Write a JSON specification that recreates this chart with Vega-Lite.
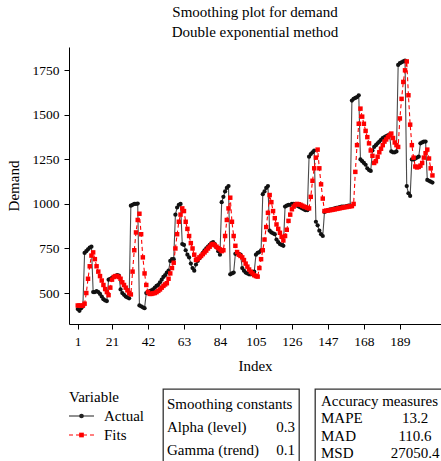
{
"$schema":"https://vega.github.io/schema/vega-lite/v6.json",
"padding":{"left":6,"top":5,"right":0,"bottom":0},
"background":"white",
"datasets":{
"series":[
{"Index":1,"Actual":410,"Fits":430},{"Index":2,"Actual":400,"Fits":430},{"Index":3,"Actual":415,"Fits":428},{"Index":4,"Actual":425,"Fits":430},{"Index":5,"Actual":725,"Fits":440},{"Index":6,"Actual":735,"Fits":500},{"Index":7,"Actual":745,"Fits":580},{"Index":8,"Actual":755,"Fits":650},{"Index":9,"Actual":760,"Fits":710},{"Index":10,"Actual":505,"Fits":728},
{"Index":11,"Actual":505,"Fits":690},{"Index":12,"Actual":510,"Fits":650},{"Index":13,"Actual":505,"Fits":620},{"Index":14,"Actual":495,"Fits":595},{"Index":15,"Actual":480,"Fits":570},{"Index":16,"Actual":465,"Fits":545},{"Index":17,"Actual":458,"Fits":522},{"Index":18,"Actual":455,"Fits":505},{"Index":19,"Actual":575,"Fits":488},{"Index":20,"Actual":580,"Fits":530},
{"Index":21,"Actual":585,"Fits":575},{"Index":22,"Actual":590,"Fits":590},{"Index":23,"Actual":595,"Fits":595},{"Index":24,"Actual":600,"Fits":595},{"Index":25,"Actual":598,"Fits":590},{"Index":26,"Actual":520,"Fits":580},{"Index":27,"Actual":500,"Fits":560},{"Index":28,"Actual":490,"Fits":545},{"Index":29,"Actual":480,"Fits":530},{"Index":30,"Actual":475,"Fits":515},
{"Index":31,"Actual":470,"Fits":500},{"Index":32,"Actual":990,"Fits":492},{"Index":33,"Actual":995,"Fits":620},{"Index":34,"Actual":1000,"Fits":740},{"Index":35,"Actual":1000,"Fits":840},{"Index":36,"Actual":1002,"Fits":910},{"Index":37,"Actual":430,"Fits":945},{"Index":38,"Actual":425,"Fits":830},{"Index":39,"Actual":420,"Fits":700},{"Index":40,"Actual":415,"Fits":610},
{"Index":41,"Actual":500,"Fits":545},{"Index":42,"Actual":505,"Fits":505},{"Index":43,"Actual":510,"Fits":495},{"Index":44,"Actual":515,"Fits":495},{"Index":45,"Actual":520,"Fits":498},{"Index":46,"Actual":530,"Fits":500},{"Index":47,"Actual":540,"Fits":505},{"Index":48,"Actual":545,"Fits":512},{"Index":49,"Actual":560,"Fits":520},{"Index":50,"Actual":575,"Fits":530},
{"Index":51,"Actual":590,"Fits":540},{"Index":52,"Actual":600,"Fits":548},{"Index":53,"Actual":615,"Fits":555},{"Index":54,"Actual":625,"Fits":580},{"Index":55,"Actual":680,"Fits":610},{"Index":56,"Actual":690,"Fits":640},{"Index":57,"Actual":690,"Fits":670},{"Index":58,"Actual":940,"Fits":750},{"Index":59,"Actual":980,"Fits":830},{"Index":60,"Actual":995,"Fits":900},
{"Index":61,"Actual":1000,"Fits":940},{"Index":62,"Actual":775,"Fits":975},{"Index":63,"Actual":770,"Fits":960},{"Index":64,"Actual":740,"Fits":900},{"Index":65,"Actual":715,"Fits":860},{"Index":66,"Actual":700,"Fits":820},{"Index":67,"Actual":665,"Fits":780},{"Index":68,"Actual":640,"Fits":750},{"Index":69,"Actual":625,"Fits":715},{"Index":70,"Actual":660,"Fits":685},
{"Index":71,"Actual":680,"Fits":690},{"Index":72,"Actual":695,"Fits":700},{"Index":73,"Actual":710,"Fits":708},{"Index":74,"Actual":725,"Fits":718},{"Index":75,"Actual":740,"Fits":728},{"Index":76,"Actual":750,"Fits":738},{"Index":77,"Actual":760,"Fits":750},{"Index":78,"Actual":770,"Fits":760},{"Index":79,"Actual":780,"Fits":772},{"Index":80,"Actual":785,"Fits":775},
{"Index":81,"Actual":775,"Fits":768},{"Index":82,"Actual":755,"Fits":760},{"Index":83,"Actual":735,"Fits":752},{"Index":84,"Actual":715,"Fits":745},{"Index":85,"Actual":1010,"Fits":735},{"Index":86,"Actual":1040,"Fits":740},{"Index":87,"Actual":1070,"Fits":820},{"Index":88,"Actual":1090,"Fits":910},{"Index":89,"Actual":1100,"Fits":975},{"Index":90,"Actual":605,"Fits":1035},
{"Index":91,"Actual":610,"Fits":900},{"Index":92,"Actual":615,"Fits":820},{"Index":93,"Actual":720,"Fits":765},{"Index":94,"Actual":725,"Fits":730},{"Index":95,"Actual":720,"Fits":715},{"Index":96,"Actual":715,"Fits":708},{"Index":97,"Actual":640,"Fits":700},{"Index":98,"Actual":625,"Fits":685},{"Index":99,"Actual":615,"Fits":665},{"Index":100,"Actual":610,"Fits":648},
{"Index":101,"Actual":605,"Fits":632},{"Index":102,"Actual":605,"Fits":620},{"Index":103,"Actual":615,"Fits":610},{"Index":104,"Actual":620,"Fits":600},{"Index":105,"Actual":715,"Fits":595},{"Index":106,"Actual":725,"Fits":592},{"Index":107,"Actual":730,"Fits":640},{"Index":108,"Actual":740,"Fits":690},{"Index":109,"Actual":1055,"Fits":740},{"Index":110,"Actual":1070,"Fits":800},
{"Index":111,"Actual":1090,"Fits":870},{"Index":112,"Actual":1100,"Fits":950},{"Index":113,"Actual":850,"Fits":1050},{"Index":114,"Actual":840,"Fits":1010},{"Index":115,"Actual":835,"Fits":960},{"Index":116,"Actual":830,"Fits":920},{"Index":117,"Actual":800,"Fits":885},{"Index":118,"Actual":785,"Fits":860},{"Index":119,"Actual":775,"Fits":838},{"Index":120,"Actual":770,"Fits":815},
{"Index":121,"Actual":765,"Fits":795},{"Index":122,"Actual":985,"Fits":820},{"Index":123,"Actual":990,"Fits":855},{"Index":124,"Actual":995,"Fits":905},{"Index":125,"Actual":995,"Fits":940},{"Index":126,"Actual":1000,"Fits":970},{"Index":127,"Actual":1000,"Fits":985},{"Index":128,"Actual":995,"Fits":995},{"Index":129,"Actual":990,"Fits":1000},{"Index":130,"Actual":985,"Fits":998},
{"Index":131,"Actual":980,"Fits":995},{"Index":132,"Actual":975,"Fits":990},{"Index":133,"Actual":970,"Fits":985},{"Index":134,"Actual":965,"Fits":982},{"Index":135,"Actual":965,"Fits":978},{"Index":136,"Actual":1265,"Fits":975},{"Index":137,"Actual":1280,"Fits":1040},{"Index":138,"Actual":1290,"Fits":1130},{"Index":139,"Actual":1300,"Fits":1200},{"Index":140,"Actual":900,"Fits":1260},
{"Index":141,"Actual":880,"Fits":1305},{"Index":142,"Actual":850,"Fits":1200},{"Index":143,"Actual":830,"Fits":1110},{"Index":144,"Actual":820,"Fits":1030},{"Index":145,"Actual":955,"Fits":960},{"Index":146,"Actual":960,"Fits":962},{"Index":147,"Actual":965,"Fits":963},{"Index":148,"Actual":968,"Fits":965},{"Index":149,"Actual":970,"Fits":966},{"Index":150,"Actual":972,"Fits":968},
{"Index":151,"Actual":975,"Fits":970},{"Index":152,"Actual":978,"Fits":972},{"Index":153,"Actual":980,"Fits":974},{"Index":154,"Actual":982,"Fits":976},{"Index":155,"Actual":985,"Fits":978},{"Index":156,"Actual":985,"Fits":980},{"Index":157,"Actual":985,"Fits":982},{"Index":158,"Actual":988,"Fits":983},{"Index":159,"Actual":990,"Fits":985},{"Index":160,"Actual":990,"Fits":987},
{"Index":161,"Actual":1580,"Fits":988},{"Index":162,"Actual":1590,"Fits":1000},{"Index":163,"Actual":1595,"Fits":1180},{"Index":164,"Actual":1600,"Fits":1330},{"Index":165,"Actual":1610,"Fits":1450},{"Index":166,"Actual":1250,"Fits":1535},{"Index":167,"Actual":1240,"Fits":1490},{"Index":168,"Actual":1230,"Fits":1450},{"Index":169,"Actual":1220,"Fits":1410},{"Index":170,"Actual":1200,"Fits":1375},
{"Index":171,"Actual":1190,"Fits":1340},{"Index":172,"Actual":1185,"Fits":1300},{"Index":173,"Actual":1300,"Fits":1270},{"Index":174,"Actual":1320,"Fits":1230},{"Index":175,"Actual":1330,"Fits":1240},{"Index":176,"Actual":1340,"Fits":1265},{"Index":177,"Actual":1350,"Fits":1290},{"Index":178,"Actual":1360,"Fits":1310},{"Index":179,"Actual":1370,"Fits":1330},{"Index":180,"Actual":1375,"Fits":1350},
{"Index":181,"Actual":1380,"Fits":1362},{"Index":182,"Actual":1385,"Fits":1375},{"Index":183,"Actual":1390,"Fits":1385},{"Index":184,"Actual":1295,"Fits":1395},{"Index":185,"Actual":1290,"Fits":1370},{"Index":186,"Actual":1290,"Fits":1345},{"Index":187,"Actual":1295,"Fits":1330},{"Index":188,"Actual":1780,"Fits":1320},{"Index":189,"Actual":1790,"Fits":1480},{"Index":190,"Actual":1795,"Fits":1590},
{"Index":191,"Actual":1800,"Fits":1685},{"Index":192,"Actual":1805,"Fits":1750},{"Index":193,"Actual":1100,"Fits":1800},{"Index":194,"Actual":1060,"Fits":1610},{"Index":195,"Actual":1045,"Fits":1445},{"Index":196,"Actual":1250,"Fits":1330},{"Index":197,"Actual":1250,"Fits":1260},{"Index":198,"Actual":1255,"Fits":1210},{"Index":199,"Actual":1260,"Fits":1205},{"Index":200,"Actual":1265,"Fits":1208},
{"Index":201,"Actual":1340,"Fits":1215},{"Index":202,"Actual":1345,"Fits":1230},{"Index":203,"Actual":1350,"Fits":1260},{"Index":204,"Actual":1350,"Fits":1285},{"Index":205,"Actual":1135,"Fits":1305},{"Index":206,"Actual":1130,"Fits":1255},{"Index":207,"Actual":1125,"Fits":1200},{"Index":208,"Actual":1120,"Fits":1160}
],
"legendItems":[{"label":"Actual","row":1},{"label":"Fits","row":2}],
"smoothing":[{"row":1,"label":"Smoothing constants","value":""},{"row":2,"label":"Alpha (level)","value":"0.3"},{"row":3,"label":"Gamma (trend)","value":"0.1"}],
"accuracy":[{"row":1,"label":"Accuracy measures","value":""},{"row":2,"label":"MAPE","value":"13.2"},{"row":3,"label":"MAD","value":"110.6"},{"row":4,"label":"MSD","value":"27050.4"}]
},
"vconcat":[
{
"width":372,"height":277,
"title":{"text":["Smoothing plot for demand","Double exponential method"],"anchor":"middle","frame":"group","fontSize":15,"fontWeight":"normal","font":"Liberation Serif","lineHeight":20,"offset":7,"color":"#000"},
"data":{"name":"series"},
"encoding":{"x":{"field":"Index","type":"quantitative","title":"Index","scale":{"domain":[-4.1,213],"nice":false,"zero":false},"axis":{"values":[1,21,42,63,84,105,126,147,168,189],"labelPadding":5,"titlePadding":11}}},
"layer":[
{"mark":{"type":"line","color":"#4a4a4a","strokeWidth":1.1},
 "encoding":{"y":{"field":"Actual","type":"quantitative","title":"Demand","scale":{"domain":[326,1881],"nice":false,"zero":false},"axis":{"values":[500,750,1000,1250,1500,1750],"format":"d","labelPadding":5,"titlePadding":11}}}},
{"mark":{"type":"line","color":"#ff0000","strokeWidth":1.1,"strokeDash":[4,3]},
 "encoding":{"y":{"field":"Fits","type":"quantitative","title":"Demand","scale":{"domain":[326,1881],"nice":false,"zero":false}}}},
{"mark":{"type":"point","shape":"circle","filled":true,"size":18,"color":"#111111","opacity":1},
 "encoding":{"y":{"field":"Actual","type":"quantitative","title":"Demand","scale":{"domain":[326,1881],"nice":false,"zero":false}}}},
{"mark":{"type":"point","shape":"square","filled":true,"size":20,"color":"#ff0000","opacity":1},
 "encoding":{"y":{"field":"Fits","type":"quantitative","title":"Demand","scale":{"domain":[326,1881],"nice":false,"zero":false}}}}
]
},
{
"hconcat":[
{
"width":79,"height":80,
"data":{"name":"legendItems"},
"layer":[
{"data":{"values":[{"label":"Variable","row":0}]},
 "mark":{"type":"text","align":"left","baseline":"middle","fontSize":15,"font":"Liberation Serif","color":"#000"},
 "encoding":{"x":{"datum":0,"type":"quantitative","scale":{"domain":[0,3.16]},"axis":null},"y":{"field":"row","type":"quantitative","scale":{"domain":[-0.421,3.789],"reverse":true},"axis":null},"text":{"field":"label"}}},
{"mark":{"type":"rule","strokeWidth":1.1},
 "encoding":{"x":{"datum":0,"type":"quantitative","scale":{"domain":[0,3.16]},"axis":null},"x2":{"datum":1},"y":{"field":"row","type":"quantitative","scale":{"domain":[-0.421,3.789],"reverse":true},"axis":null},
  "color":{"field":"label","type":"nominal","scale":{"domain":["Actual","Fits"],"range":["#222222","#ff0000"]},"legend":null},
  "strokeDash":{"field":"label","type":"nominal","scale":{"domain":["Actual","Fits"],"range":[[1,0],[4,3]]},"legend":null}}},
{"mark":{"type":"point","filled":true,"size":22,"opacity":1},
 "encoding":{"x":{"datum":0.5,"type":"quantitative","scale":{"domain":[0,3.16]},"axis":null},"y":{"field":"row","type":"quantitative","scale":{"domain":[-0.421,3.789],"reverse":true},"axis":null},
  "color":{"field":"label","type":"nominal","scale":{"domain":["Actual","Fits"],"range":["#222222","#ff0000"]},"legend":null},
  "shape":{"field":"label","type":"nominal","scale":{"domain":["Actual","Fits"],"range":["circle","square"]},"legend":null}}},
{"mark":{"type":"text","align":"left","baseline":"middle","fontSize":15,"font":"Liberation Serif","color":"#000"},
 "encoding":{"x":{"datum":1.4,"type":"quantitative","scale":{"domain":[0,3.16]},"axis":null},"y":{"field":"row","type":"quantitative","scale":{"domain":[-0.421,3.789],"reverse":true},"axis":null},"text":{"field":"label"}}}
]
},
{
"width":136,"height":80,
"view":{"stroke":"#333333","strokeWidth":1.3},
"data":{"name":"smoothing"},
"layer":[
{"mark":{"type":"text","align":"left","baseline":"middle","fontSize":15,"font":"Liberation Serif","color":"#000"},
 "encoding":{"x":{"datum":0,"type":"quantitative","scale":{"domain":[-0.03125,1.03125]},"axis":null},"y":{"field":"row","type":"quantitative","scale":{"domain":[0.348,3.826],"reverse":true},"axis":null},"text":{"field":"label"}}},
{"mark":{"type":"text","align":"right","baseline":"middle","fontSize":15,"font":"Liberation Serif","color":"#000"},
 "encoding":{"x":{"datum":1,"type":"quantitative","scale":{"domain":[-0.03125,1.03125]},"axis":null},"y":{"field":"row","type":"quantitative","scale":{"domain":[0.348,3.826],"reverse":true},"axis":null},"text":{"field":"value"}}}
]
},
{
"width":135,"height":80,
"view":{"stroke":"#333333","strokeWidth":1.3},
"data":{"name":"accuracy"},
"layer":[
{"mark":{"type":"text","align":"left","baseline":"middle","fontSize":15,"font":"Liberation Serif","color":"#000"},
 "encoding":{"x":{"datum":0,"type":"quantitative","scale":{"domain":[-0.0638,1.3723]},"axis":null},"y":{"field":"row","type":"quantitative","scale":{"domain":[0.308,4.923],"reverse":true},"axis":null},"text":{"field":"label"}}},
{"mark":{"type":"text","align":"center","baseline":"middle","fontSize":15,"font":"Liberation Serif","color":"#000"},
 "encoding":{"x":{"datum":1,"type":"quantitative","scale":{"domain":[-0.0638,1.3723]},"axis":null},"y":{"field":"row","type":"quantitative","scale":{"domain":[0.308,4.923],"reverse":true},"axis":null},"text":{"field":"value"}}}
]
}
],
"spacing":14
}
],
"spacing":14,
"config":{
"font":"Liberation Serif",
"view":{"stroke":null},
"axis":{"grid":false,"domainColor":"#000","domainWidth":1,"tickColor":"#000","tickSize":5,"labelColor":"#000","titleColor":"#000","labelFont":"Liberation Serif","titleFont":"Liberation Serif","labelFontSize":13.5,"titleFontSize":15,"titleFontWeight":"normal"}
}
}
